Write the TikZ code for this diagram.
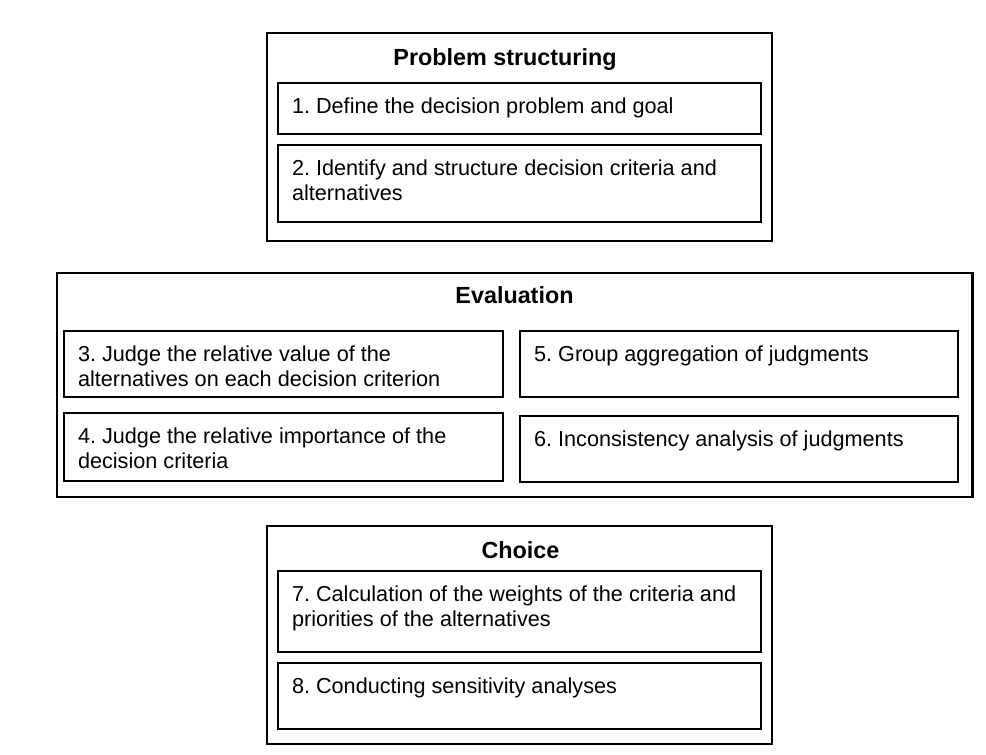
\documentclass[tikz,border=0pt]{standalone}
\usepackage{fontspec}
\setmainfont{Liberation Sans}
\usepackage{tikz}
\usetikzlibrary{positioning}
\frenchspacing
\newcommand{\stepfont}{\fontsize{15.4}{17.8}\selectfont}
\newcommand{\titlefont}{\fontsize{16.6}{20}\selectfont\bfseries}
\newcommand{\steptext}[3]{\parbox[t][#2][t]{#1}{\raggedright\leftskip=0.35cm\rule{0pt}{21.8pt}#3}}
\tikzset{
  groupbox/.style={draw, line width=1.8pt, anchor=north west, inner sep=0pt, outer sep=0pt},
  stepbox/.style={draw, line width=1.2pt, anchor=north west, inner sep=0pt, outer sep=0pt, font=\stepfont},
  grouptitle/.style={anchor=base, inner sep=0pt, font=\titlefont}
}

\begin{document}
\begin{tikzpicture}[x=0.025cm, y=-0.025cm]
  \useasboundingbox (0,0) rectangle (986,755);

  % Problem structuring
  \node (ps) [groupbox, minimum width=12.625cm, minimum height=5.2cm] at (267,33) {};
  \node (pstitle) [grouptitle] at (505,66) {Problem structuring};
  \node (s1) [stepbox] at (278,83) {\steptext{12.075cm}{1.275cm}{1. Define the decision problem and goal}};
  \node (s2) [stepbox, below=0.275cm of s1] {\steptext{12.075cm}{1.925cm}{2. Identify and structure decision criteria and\\alternatives}};

  % Evaluation
  \node (ev) [groupbox, minimum width=22.875cm, minimum height=5.6cm] at (57,273) {};
  \node (evtitle) [grouptitle] at (514.5,303) {Evaluation};
  \node (s3) [stepbox] at (64,331) {\steptext{10.975cm}{1.65cm}{3. Judge the relative value of the\\alternatives on each decision criterion}};
  \node (s4) [stepbox, below=0.4cm of s3] {\steptext{10.975cm}{1.7cm}{4. Judge the relative importance of the\\decision criteria}};
  \node (s5) [stepbox, right=0.425cm of s3] {\steptext{10.95cm}{1.65cm}{5. Group aggregation of judgments}};
  \node (s6) [stepbox, below=0.475cm of s5] {\steptext{10.95cm}{1.65cm}{6. Inconsistency analysis of judgments}};

  % Choice
  \node (ch) [groupbox, minimum width=12.625cm, minimum height=5.45cm] at (267,526) {};
  \node (chtitle) [grouptitle] at (520.5,558) {Choice};
  \node (s7) [stepbox] at (278,571) {\steptext{12.075cm}{2.025cm}{7. Calculation of the weights of the criteria and\\priorities of the alternatives}};
  \node (s8) [stepbox, below=0.275cm of s7] {\steptext{12.075cm}{1.65cm}{8. Conducting sensitivity analyses}};
\end{tikzpicture}
\end{document}
